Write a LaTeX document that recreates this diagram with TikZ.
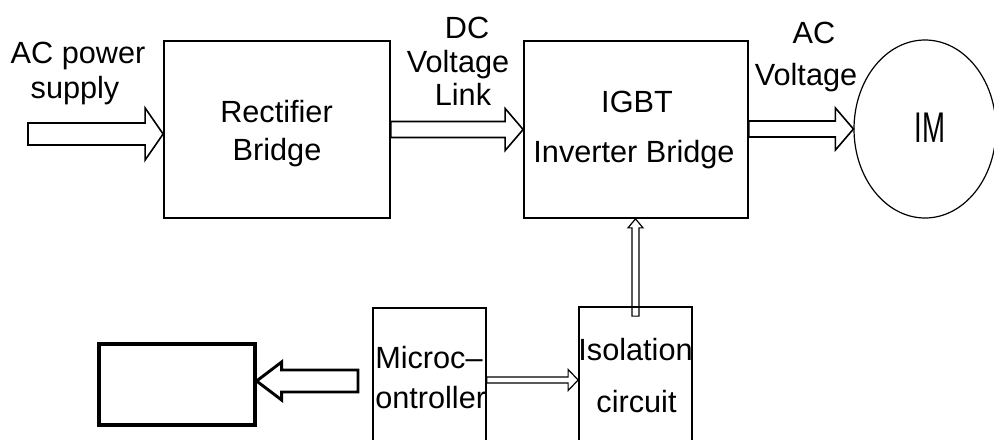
\documentclass[tikz,border=0pt]{standalone}
\usepackage{fontspec}
\setmainfont{Liberation Sans}
\usetikzlibrary{calc,shapes.geometric}
\newcommand\harrow[6][]{%
  \draw[#1] ($(#2|-#3)+(0,-#4)$) -- ($(#3)+(-#6,-#4)$) -- ($(#3)+(-#6,-#5)$) -- (#3)
    -- ($(#3)+(-#6,#5)$) -- ($(#3)+(-#6,#4)$) -- ($(#2|-#3)+(0,#4)$) -- cycle;}
\begin{document}
\begin{tikzpicture}[x=0.75pt,y=-0.75pt,
  box/.style={draw,line width=1.3pt,rectangle,inner sep=0pt},
  bigarrow/.style={draw,line width=1.2pt},
  smallarrow/.style={draw,line width=0.9pt},
  txt/.style={inner sep=0pt,anchor=base,font=\fontsize{23}{28}\selectfont}]
\useasboundingbox (0,0) rectangle (994,439);
\fill[white] (0,0) rectangle (994,439);
\clip (0,0) rectangle (994,439);
% blocks
\node[box,minimum width=169.5pt,minimum height=132.75pt] (rect) at (277,129.5) {};
\node[box,minimum width=168pt,minimum height=132.75pt] (igbt) at (636,129.5) {};
\node[draw,line width=0.9pt,ellipse,inner sep=0pt,minimum width=106.5pt,minimum height=133.5pt] (IM) at (925,129) {};
\node[box,minimum width=84.75pt,minimum height=114pt] (micro) at (429.5,384) {};
\node[box,minimum width=84.75pt,minimum height=114.75pt] (iso) at (635.5,383.5) {};
\node[draw,line width=2.4pt,rectangle,inner sep=0pt,minimum width=117pt,minimum height=60.75pt] (blank) at (177,384.5) {};
% texts
\node[txt] (t1) at (78,63) {AC power};
\node[txt] (t2) at (75,98) {supply};
\node[txt] (t3) at (467,38) {DC};
\node[txt] (t4) at (458,72) {Voltage};
\node[txt] (t5) at (463,105) {Link};
\node[txt] (t6) at (814,43) {AC};
\node[txt] (t7) at (806,85) {Voltage};
\node[txt] (t8) at (276.5,122) {Rectifier};
\node[txt] (t9) at (277,160) {Bridge};
\node[txt] (t10) at (637,112) {IGBT};
\node[txt] (t11) at (634,162) {Inverter Bridge};
\node[txt,anchor=center] (t12) at (930,127.5) {\scalebox{0.9}[1.4]{IM}};
\node[txt,anchor=base west] (t13) at (375,368) {Microc–};
\node[txt,anchor=base west] (t14) at (375,408) {ontroller};
\node[txt] (t15) at (635.5,360) {Isolation};
\node[txt] (t16) at (636.5,412) {circuit};
% connectors
\coordinate (acsrc) at (28,134);
\coordinate (acTip) at ($(rect.west)+(0,4.5)$);
\harrow[bigarrow]{acsrc}{acTip}{11}{26}{18}
\harrow[bigarrow]{rect.east}{igbt.west}{8}{21}{18}
\harrow[bigarrow]{igbt.east}{IM.west}{8}{21}{18}
\coordinate (mtip) at ($(iso.west)+(0,-3.5)$);
\harrow[smallarrow]{micro.east}{mtip}{3}{10.5}{10}
\coordinate (vtip) at (iso.north|-igbt.south);
\draw[smallarrow] ($(iso.north)+(-3.5,10)$) -- ($(vtip)+(-3.5,9)$) -- ($(vtip)+(-7.5,9)$) -- (vtip)
  -- ($(vtip)+(7.5,9)$) -- ($(vtip)+(3.5,9)$) -- ($(iso.north)+(3.5,10)$) -- cycle;
\coordinate (lsrc) at (358,381);
\coordinate (ltip) at ($(blank.east)+(0,-3.5)$);
\draw[line width=2.2pt] ($(lsrc)+(0,-11)$) -- ($(ltip)+(25,-11)$) -- ($(ltip)+(25,-19)$) -- (ltip)
  -- ($(ltip)+(25,19)$) -- ($(ltip)+(25,11)$) -- ($(lsrc)+(0,11)$) -- cycle;
\end{tikzpicture}
\end{document}
